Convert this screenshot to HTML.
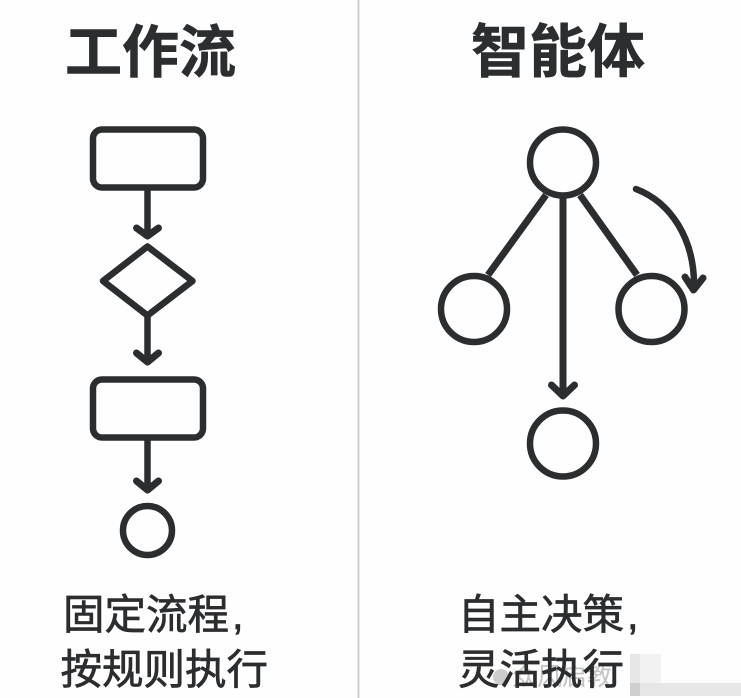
<!DOCTYPE html>
<html lang="zh">
<head>
<meta charset="utf-8">
<style>
html,body{margin:0;padding:0;background:#fefefe;}
body{width:741px;height:698px;overflow:hidden;}
svg{display:block;}
text{font-family:"Liberation Sans","Noto Sans CJK SC",sans-serif;fill:#2b2d2f;}
.t{font-size:58px;font-weight:700;stroke:#2b2d2f;stroke-width:.6px;}
.s{font-size:41.500px;font-weight:400;stroke:#2b2d2f;stroke-width:.7px;}
.w{font-size:25px;fill:#c4c4c4;}
</style>
</head>
<body>
<svg width="741" height="698" viewBox="0 0 741 698" xmlns="http://www.w3.org/2000/svg">
<rect width="741" height="698" fill="#fefefe"/>
<line x1="358.500" y1="0" x2="358.500" y2="698" stroke="#cfcfcf" stroke-width="2"/>

<text class="t" x="65" y="72" style="font-size:57px">工作流</text>
<text class="t" x="471" y="72">智能体</text>

<g fill="none" stroke="#2b2d2f" stroke-width="6.500" stroke-linecap="round" stroke-linejoin="round">
  <rect x="93" y="129.500" width="110" height="58" rx="9"/>
  <line x1="147.500" y1="190" x2="147.500" y2="234"/>
  <polyline points="136.500,228 147.500,236 158.500,228" stroke-width="7"/>
  <polygon points="147.500,246.500 192.500,281 147.500,315.500 103,281"/>
  <line x1="147.500" y1="316" x2="147.500" y2="361"/>
  <polyline points="136.500,353 147.500,362 158.500,353" stroke-width="7"/>
  <rect x="93" y="379.500" width="110" height="58" rx="9"/>
  <line x1="147.500" y1="440" x2="147.500" y2="488"/>
  <polyline points="136.500,481 147.500,490 158.500,481" stroke-width="7"/>
  <circle cx="147.500" cy="530.500" r="24.500"/>

  <circle cx="563" cy="162.500" r="33"/>
  <circle cx="474" cy="309" r="33"/>
  <circle cx="651.500" cy="309" r="33"/>
  <circle cx="563" cy="443.500" r="33"/>
  <line x1="546" y1="195" x2="488" y2="275" stroke-linecap="butt" stroke-width="7"/>
  <line x1="580" y1="195" x2="637" y2="275" stroke-linecap="butt" stroke-width="7"/>
  <line x1="563" y1="197" x2="563" y2="396" stroke-linecap="butt" stroke-width="7"/>
  <polyline points="551.500,385 563,396 574.500,385" stroke-width="7"/>
  <path d="M636,189 C670,202 695,238 694,288"/>
  <polyline points="685,277 693.500,290 703,278" stroke-width="7"/>
</g>

<circle cx="501" cy="677" r="8" fill="#cccccc"/>
<text class="w" x="512" y="685">众风启教</text>

<text class="s" x="63" y="629">固定流程<tspan dx="3">,</tspan></text>
<text class="s" x="60.500" y="684">按规则执行</text>

<text class="s" x="458" y="629">自主决策<tspan dx="3">,</tspan></text>
<text class="s" x="458" y="684">灵活执行</text>

<rect x="630" y="654" width="31" height="29" fill="#f2f2f2"/>
<rect x="630" y="654" width="10" height="29" fill="#e6e6e6"/>
<rect x="630" y="683" width="111" height="13" fill="#e6e6e6"/>
<rect x="630" y="683" width="10" height="13" fill="#cfcfcf"/>
</svg>
</body>
</html>
